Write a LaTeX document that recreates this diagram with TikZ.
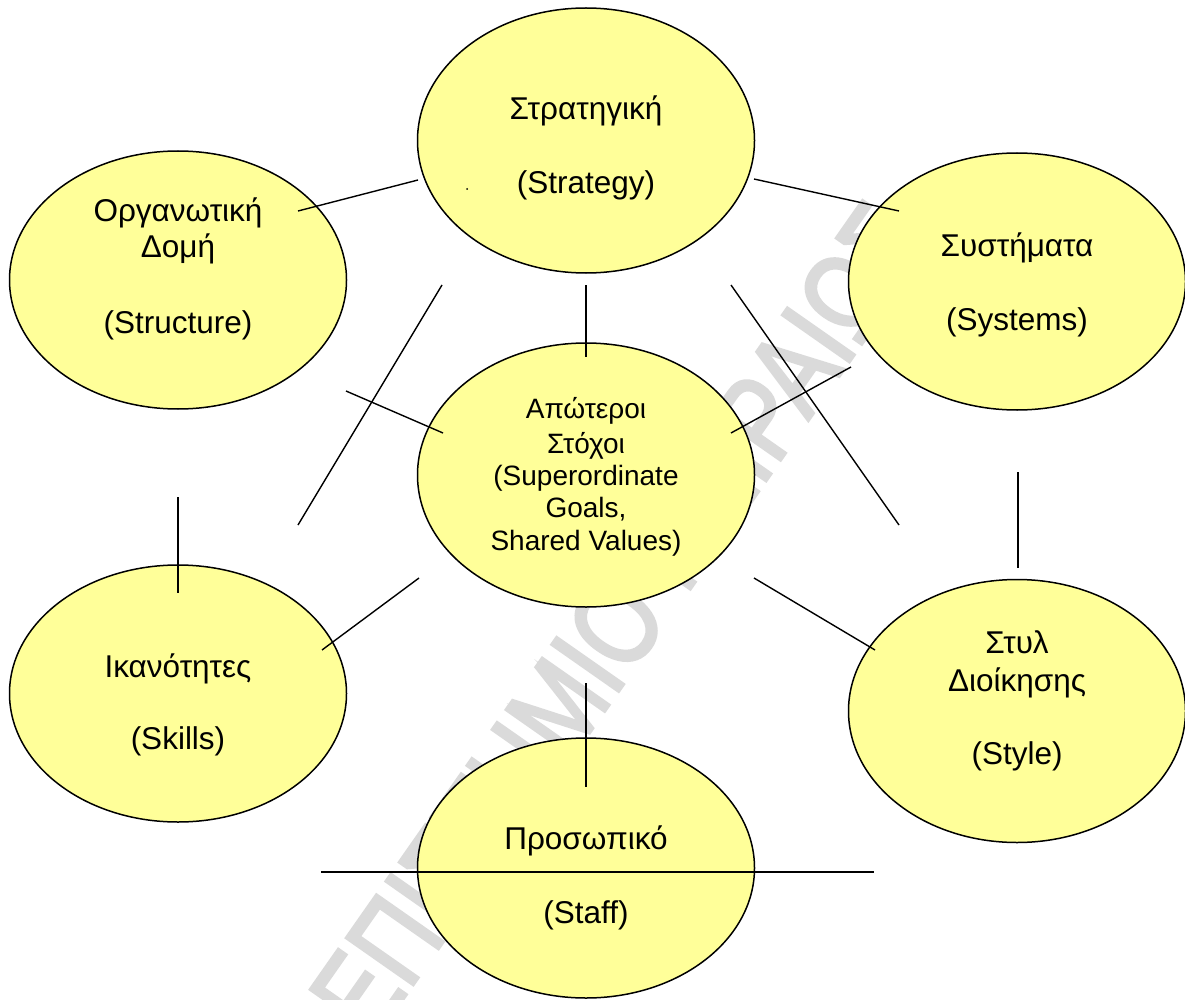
\documentclass[tikz,border=0pt]{standalone}
\usepackage{fontspec}
\setmainfont{Liberation Sans}
\newfontfamily\markfont[FakeBold=3]{Liberation Sans}
\usetikzlibrary{shapes.geometric}
\definecolor{bubblefill}{HTML}{FFFF99}
\definecolor{markgray}{HTML}{DADADA}

\begin{document}
\begin{tikzpicture}[x=1pt,y=-1pt,
  bubble/.style={ellipse, draw=black, line width=1.5pt, fill=bubblefill,
                 minimum width=337pt, inner sep=0pt},
  bigtext/.style={anchor=base, inner sep=0pt, font=\fontsize{31.5}{37}\selectfont},
  smalltext/.style={anchor=base, inner sep=0pt, font=\fontsize{28}{33}\selectfont},
  link/.style={line width=1.4pt},
  watermark/.style={text=markgray, inner sep=0pt, rotate=55, anchor=base west,
                    font=\markfont\fontsize{118}{118}\selectfont}]

\useasboundingbox (0,0) rectangle (1185,1000);

% background watermark, narrowed letters
\node[watermark] (wm) at (258,1206) {\scalebox{0.8}[1]{ΠΑΝΕΠΙΣΤΗΜΙΟ ΠΕΙΡΑΙΩΣ}};

% the seven elements
\node[bubble, minimum height=265pt] (strategy)  at (586,140.5) {};
\node[bubble, minimum height=258pt] (structure) at (178,280)   {};
\node[bubble, minimum height=257pt] (systems)   at (1017,281.5){};
\node[bubble, minimum height=264pt] (goals)     at (586,475)   {};
\node[bubble, minimum height=257pt] (skills)    at (178,693.5) {};
\node[bubble, minimum height=263pt] (style)     at (1017,711)  {};
\node[bubble, minimum height=260pt] (staff)     at (586,868)   {};

% labels
\node[bigtext] (strategyA) at (586,120) {Στρατηγική};
\node[bigtext] (strategyB) at (586,194) {(Strategy)};
\node[circle, fill=black, inner sep=0pt, minimum size=2pt] (dot) at (467,189) {};

\node[bigtext] (structureA) at (178,222) {Οργανωτική};
\node[bigtext] (structureB) at (178,258) {Δομή};
\node[bigtext] (structureC) at (178,333) {(Structure)};

\node[bigtext] (systemsA) at (1017,257) {Συστήματα};
\node[bigtext] (systemsB) at (1017,330) {(Systems)};

\node[smalltext] (goalsA) at (586,418) {Απώτεροι};
\node[smalltext] (goalsB) at (586,453) {Στόχοι};
\node[smalltext] (goalsC) at (586,485) {(Superordinate};
\node[smalltext] (goalsD) at (586,517) {Goals,};
\node[smalltext] (goalsE) at (586,550) {Shared Values)};

\node[bigtext] (skillsA) at (178,677) {Ικανότητες};
\node[bigtext] (skillsB) at (178,749) {(Skills)};

\node[bigtext] (styleA) at (1017,653) {Στυλ};
\node[bigtext] (styleB) at (1017,691) {Διοίκησης};
\node[bigtext] (styleC) at (1017,764) {(Style)};

\node[bigtext] (staffA) at (586,849) {Προσωπικό};
\node[bigtext] (staffB) at (586,923) {(Staff)};

% connector end points
\coordinate (a1) at (298,211);  \coordinate (a2) at (418,180);
\coordinate (b1) at (754,179);  \coordinate (b2) at (899,211);
\coordinate (c1) at (586,285);  \coordinate (c2) at (586,357);
\coordinate (d1) at (442,285);  \coordinate (d2) at (298,525);
\coordinate (e1) at (731,285);  \coordinate (e2) at (899,525);
\coordinate (f1) at (346,391);  \coordinate (f2) at (443,433);
\coordinate (g1) at (851,367);  \coordinate (g2) at (731,433);
\coordinate (h1) at (178,497);  \coordinate (h2) at (178,593);
\coordinate (i1) at (322,650);  \coordinate (i2) at (419,578);
\coordinate (j1) at (1018,472); \coordinate (j2) at (1018,568);
\coordinate (k1) at (754,578);  \coordinate (k2) at (875,650);
\coordinate (l1) at (586,683);  \coordinate (l2) at (586,787);
\coordinate (m1) at (321,872);  \coordinate (m2) at (874,872);

% connectors
\draw[link] (a1) -- (a2);
\draw[link] (b1) -- (b2);
\draw[link] (c1) -- (c2);
\draw[link] (d1) -- (d2);
\draw[link] (e1) -- (e2);
\draw[link] (f1) -- (f2);
\draw[link] (g1) -- (g2);
\draw[link] (h1) -- (h2);
\draw[link] (i1) -- (i2);
\draw[link] (j1) -- (j2);
\draw[link] (k1) -- (k2);
\draw[link] (l1) -- (l2);
\draw[link] (m1) -- (m2);

\end{tikzpicture}
\end{document}
